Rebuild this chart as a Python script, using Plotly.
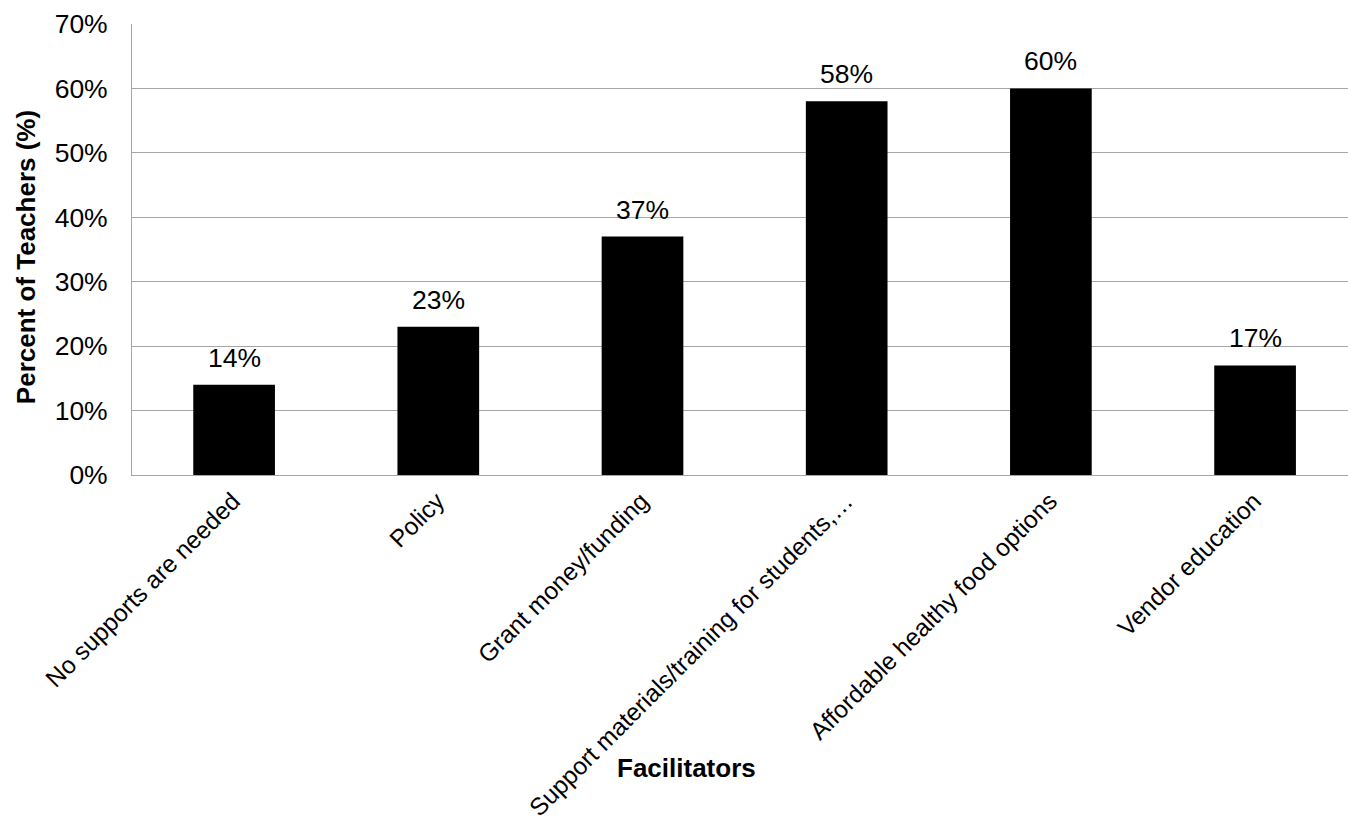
import plotly.graph_objects as go

categories = ["No supports are needed", "Policy", "Grant money/funding",
              "Support materials/training for students,…",
              "Affordable healthy food options", "Vendor education"]
values = [0.14, 0.23, 0.37, 0.58, 0.60, 0.17]
y_ticks = [0, 0.1, 0.2, 0.3, 0.4, 0.5, 0.6, 0.7]
y_tick_labels = ["0%", "10%", "20%", "30%", "40%", "50%", "60%", "70%"]
x_title = "Facilitators"
y_title = "Percent of Teachers (%)"

FONT = "Liberation Sans, Arial, sans-serif"
GRID = "#a6a6a6"
FS = 26.5
FSX = 24.5

xpos = list(range(len(categories)))

fig = go.Figure()
fig.add_trace(go.Bar(
    x=xpos, y=values, width=0.4,
    marker=dict(color="black", line=dict(width=0)),
    showlegend=False, hoverinfo="skip",
))

annotations = []
for x, v in zip(xpos, values):
    annotations.append(dict(
        x=x, y=v, xref="x", yref="y", text=f"{round(v*100)}%",
        showarrow=False, yanchor="bottom", xanchor="center", yshift=10,
        font=dict(family=FONT, size=FS, color="black"),
    ))
annotations.append(dict(
    x=0.4564, y=-0.65, xref="paper", yref="paper", text=f"<b>{x_title}</b>",
    showarrow=False, xanchor="center", yanchor="middle",
    font=dict(family=FONT, size=26, color="black"),
))
annotations.append(dict(
    x=-0.0872, y=0.483, xref="paper", yref="paper", text=f"<b>{y_title}</b>",
    showarrow=False, xanchor="center", yanchor="middle", textangle=-90,
    font=dict(family=FONT, size=26, color="black"),
))

fig.update_layout(
    width=1348, height=829,
    margin=dict(l=132, r=0, t=24, b=354, pad=0, autoexpand=False),
    paper_bgcolor="white", plot_bgcolor="white",
    font=dict(family=FONT, size=FS, color="black"),
    annotations=annotations,
    xaxis=dict(
        range=[-0.5, 5.455], tickmode="array", tickvals=xpos, ticktext=categories,
        tickangle=-45, showgrid=False, showline=True, linecolor=GRID, linewidth=1,
        ticks="", zeroline=False, tickfont=dict(family=FONT, size=FSX, color="black"),
        fixedrange=True, automargin=False, ticklabelshift=-1, ticklabelstandoff=1,
    ),
    yaxis=dict(
        range=[0, 0.7], tickmode="array", tickvals=y_ticks, ticktext=y_tick_labels,
        showgrid=True, gridcolor=GRID, gridwidth=1, showline=True, linecolor=GRID,
        linewidth=1, ticks="", zeroline=False, ticklabelstandoff=18,
        tickfont=dict(family=FONT, size=FS, color="black"), automargin=False,
    ),
    bargap=0.6,
)

fig.write_html("out.html")
